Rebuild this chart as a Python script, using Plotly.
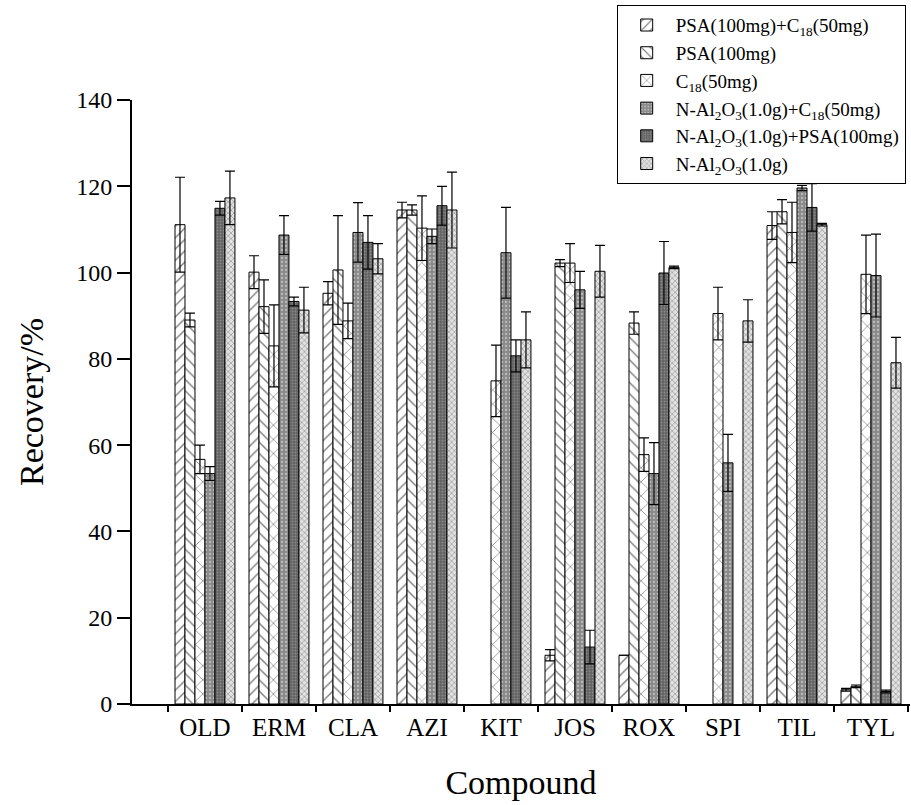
import plotly.graph_objects as go

compounds = ["OLD", "ERM", "CLA", "AZI", "KIT", "JOS", "ROX", "SPI", "TIL", "TYL"]

series_names = [
    "PSA(100mg)+C<sub>18</sub>(50mg)",
    "PSA(100mg)",
    "C<sub>18</sub>(50mg)",
    "N-Al<sub>2</sub>O<sub>3</sub>(1.0g)+C<sub>18</sub>(50mg)",
    "N-Al<sub>2</sub>O<sub>3</sub>(1.0g)+PSA(100mg)",
    "N-Al<sub>2</sub>O<sub>3</sub>(1.0g)",
]

psa_c18 = [111.1, 100.1, 95.2, 114.5, None, 11.3, 11.3, None, 110.9, 3.3]
psa_c18_err = [11.0, 3.8, 2.7, 1.8, None, 1.3, 0.0, None, 3.2, 0.3]

psa = [89.0, 92.1, 100.6, 114.5, None, 102.2, 88.3, None, 114.1, 4.1]
psa_err = [1.6, 6.2, 12.6, 1.2, None, 0.8, 2.6, None, 2.8, 0.3]

c18 = [56.7, 83.0, 88.8, 110.3, 74.9, 102.2, 57.8, 90.5, 109.3, 99.6]
c18_err = [3.3, 9.5, 4.1, 7.5, 8.3, 4.5, 3.9, 6.1, 7.0, 9.1]

al_c18 = [53.4, 108.7, 109.3, 108.4, 104.6, 96.0, 53.4, 55.9, 119.6, 99.3]
al_c18_err = [1.6, 4.5, 6.9, 1.7, 10.5, 4.3, 7.2, 6.6, 0.6, 9.6]

al_psa = [114.9, 93.3, 107.0, 115.5, 80.7, 13.2, 99.9, None, 115.1, 2.9]
al_psa_err = [1.6, 1.0, 6.2, 4.5, 3.7, 3.9, 7.3, None, 5.5, 0.3]

al = [117.3, 91.3, 103.2, 114.5, 84.4, 100.3, 101.2, 88.8, 111.1, 79.1]
al_err = [6.2, 5.3, 3.5, 8.8, 6.5, 6.0, 0.3, 4.9, 0.3, 5.9]

values = [psa_c18, psa, c18, al_c18, al_psa, al]
errors = [psa_c18_err, psa_err, c18_err, al_c18_err, al_psa_err, al_err]

patterns = [
    dict(shape="/", bgcolor="white", fgcolor="black", size=8, solidity=0.18),
    dict(shape="\\", bgcolor="white", fgcolor="black", size=8, solidity=0.18),
    dict(shape="x", bgcolor="white", fgcolor="black", size=10, solidity=0.14),
    dict(shape=".", bgcolor="#8a8a8a", fgcolor="#ececec", size=4, solidity=0.25),
    dict(shape=".", bgcolor="#626262", fgcolor="#b0b0b0", size=3, solidity=0.3),
    dict(shape="x", bgcolor="#e2e2e2", fgcolor="#5f5f5f", size=4, solidity=0.35),
]

FONT = "Liberation Serif, Times New Roman, serif"

xpos = list(range(len(compounds)))
boundaries = [i - 0.5 for i in range(len(compounds) + 1)]

fig = go.Figure()
for name, vals, errs, pat in zip(series_names, values, errors, patterns):
    fig.add_trace(go.Bar(
        x=xpos, y=vals, name=name,
        marker=dict(color=pat["bgcolor"], line=dict(color="black", width=1), pattern=pat),
        error_y=dict(type="data", array=errs, visible=True, color="black",
                     thickness=1.2, width=5),
    ))

fig.update_layout(
    width=911, height=805,
    margin=dict(l=132, r=1, t=100, b=101),
    paper_bgcolor="white", plot_bgcolor="white",
    barmode="group", bargap=0.19, bargroupgap=0,
    font=dict(family=FONT, color="black"),
    legend=dict(
        x=0.623, y=1.157, xanchor="left", yanchor="top",
        bordercolor="black", borderwidth=1, bgcolor="white",
        font=dict(family=FONT, size=19, color="black"),
        tracegroupgap=0, itemwidth=48,
    ),
    xaxis=dict(
        range=[-0.986, 9.527],
        tickmode="array", tickvals=xpos, ticktext=compounds,
        ticks="", ticklabelstandoff=0,
        tickfont=dict(family=FONT, size=25, color="black"),
        showline=True, linewidth=2, linecolor="black",
        showgrid=False, zeroline=False,
        minor=dict(tickmode="array", tickvals=boundaries, ticks="outside",
                   ticklen=6, tickwidth=2, tickcolor="black", showgrid=False),
        title=dict(text="Compound", font=dict(family=FONT, size=34, color="black"), standoff=30),
    ),
    xaxis2=dict(
        overlaying="x", anchor="y", side="bottom",
        range=[-0.986, 9.527],
        tickmode="array", tickvals=boundaries, ticks="inside",
        ticklen=6, tickwidth=2, tickcolor="black",
        showticklabels=False, showline=False, showgrid=False, zeroline=False,
    ),
    yaxis=dict(
        range=[0, 140],
        tickmode="array", tickvals=list(range(0, 141, 20)),
        ticks="outside", ticklen=13, tickwidth=2, tickcolor="black",
        tickfont=dict(family=FONT, size=24, color="black"),
        showline=True, linewidth=2, linecolor="black",
        showgrid=False, zeroline=False,
        title=dict(text="Recovery/%", font=dict(family=FONT, size=34, color="black"), standoff=22),
    ),
)

fig.write_html("out.html", config={"displayModeBar": False},
               post_script="document.body.style.margin='0';")
